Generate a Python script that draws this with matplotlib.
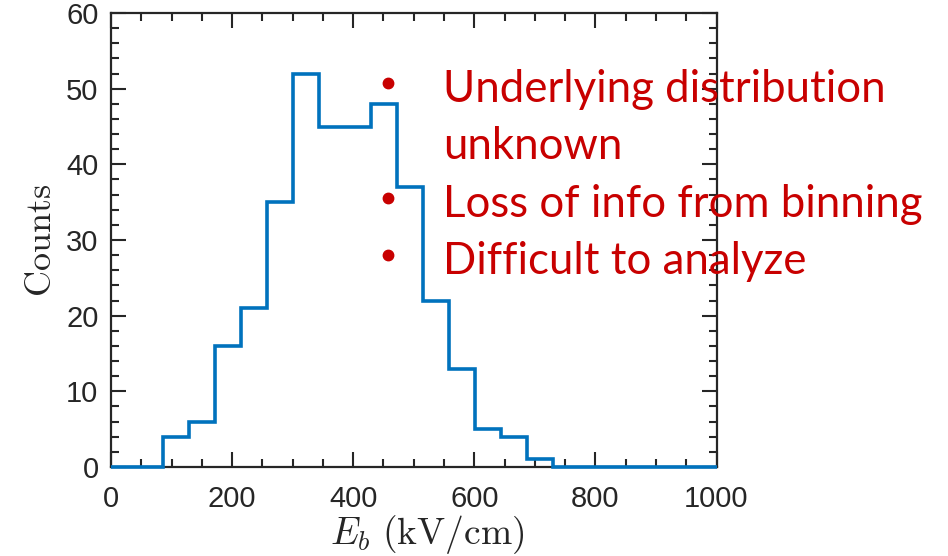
import matplotlib
matplotlib.use("Agg")
import matplotlib.pyplot as plt
from matplotlib.lines import Line2D
from matplotlib.ticker import MultipleLocator

# Histogram of breakdown field E_b (bin edges in kV/cm, counts per bin)
bin_edges = [0, 86, 129, 172, 215, 258, 300, 343, 386, 429, 472, 515, 558, 601, 644, 687, 730, 1000]
counts = [0, 4, 6, 16, 21, 35, 52, 45, 45, 48, 37, 22, 13, 5, 4, 1, 0]

x_ticks = [0, 200, 400, 600, 800, 1000]
y_ticks = [0, 10, 20, 30, 40, 50, 60]

bullets = [
    "Underlying distribution\nunknown",
    "Loss of info from binning",
    "Difficult to analyze",
]

plt.rcParams["mathtext.fontset"] = "cm"
axis_color = "#262626"
line_color = "#0072BD"
note_color = "#C80000"

fig = plt.figure(figsize=(9.48, 5.56), dpi=100)
ax = fig.add_axes([111 / 948, 89 / 556, 605.5 / 948, 454 / 556])

ax.stairs(counts, bin_edges, color=line_color, linewidth=2.6, baseline=None,
          clip_on=False, zorder=5)

ax.set_xlim(0, 1000)
ax.set_ylim(0, 60)
ax.set_xticks(x_ticks)
ax.set_yticks(y_ticks)
ax.xaxis.set_minor_locator(MultipleLocator(50))
ax.yaxis.set_minor_locator(MultipleLocator(2))
ax.tick_params(which="both", direction="in", top=True, right=True,
               color=axis_color, width=1.5, labelcolor=axis_color,
               labelsize=21, labelfontfamily="Liberation Sans")
ax.tick_params(which="major", length=11)
ax.tick_params(axis="x", which="major", pad=13)
ax.tick_params(axis="y", which="major", pad=9)
ax.tick_params(which="minor", length=6)
for s in ax.spines.values():
    s.set_color(axis_color)
    s.set_linewidth(1.6)

ax.set_ylabel(r"$\mathrm{Counts}$", fontsize=26, color=axis_color)
ax.yaxis.set_label_coords(-0.087, 0.5)
ax.set_xlabel(r"$E_b\ \mathrm{(kV/cm)}$", fontsize=27, color=axis_color)
ax.xaxis.set_label_coords(0.522, -0.101)

# Bullet notes on top of the chart
text_x = 443 / 948
dot_x = 388 / 948
baselines = [102, 217, 274]
line_gap = 57
dot_offset = 19
for txt, yb in zip(bullets, baselines):
    yd = 1 - (yb - dot_offset) / 556
    fig.add_artist(Line2D([dot_x], [yd], transform=fig.transFigure,
                          marker="o", markersize=7.5, color=note_color,
                          linestyle="none", zorder=10))
    for i, part in enumerate(txt.split("\n")):
        fig.text(text_x, 1 - (yb + i * line_gap) / 556, part,
                 color=note_color, fontsize=31.5, family="Lato", ha="left",
                 va="baseline", zorder=10)

fig.savefig("out.png", dpi=100)
